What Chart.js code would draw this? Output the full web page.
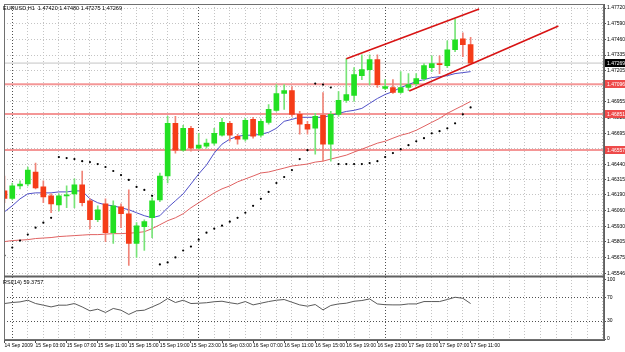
<!DOCTYPE html>
<html>
<head>
<meta charset="utf-8">
<script src="https://cdn.jsdelivr.net/npm/chart.js@4.4.1/dist/chart.umd.min.js"></script>
<style>
  html, body { margin: 0; padding: 0; background: #fff; }
  #chart { display: block; }
</style>
</head>
<body>
<canvas id="chart" width="625" height="352"></canvas>
<script>
// EURUSD H1, 14 Sep 23:00 .. 17 Sep 11:00 (one entry per hour)
const timeLabels = ['14 Sep 2009', '15 Sep 03:00', '15 Sep 07:00', '15 Sep 11:00', '15 Sep 15:00',
  '15 Sep 19:00', '15 Sep 23:00', '16 Sep 03:00', '16 Sep 07:00', '16 Sep 11:00', '16 Sep 15:00',
  '16 Sep 19:00', '16 Sep 23:00', '17 Sep 03:00', '17 Sep 07:00', '17 Sep 11:00'];
const labelEvery = 4;
const daySeparators = [1, 25, 49];

const opens = [1.46222, 1.46160, 1.46263, 1.46279, 1.46377, 1.46255, 1.46182, 1.46108, 1.46182, 1.46198,
  1.46271, 1.46141, 1.45986, 1.46116, 1.45880, 1.46092, 1.46035, 1.45791, 1.45929, 1.46002,
  1.46149, 1.46344, 1.46776, 1.46556, 1.46735, 1.46572, 1.46588, 1.46613, 1.46678, 1.46776,
  1.46670, 1.46646, 1.46808, 1.46678, 1.46784, 1.46882, 1.47020, 1.47044, 1.46849, 1.46768,
  1.46735, 1.46841, 1.46605, 1.46849, 1.46963, 1.47004, 1.47166, 1.47215, 1.47297, 1.47061,
  1.47069, 1.47028, 1.47069, 1.47101, 1.47142, 1.47232, 1.47264, 1.47248, 1.47378, 1.47468, 1.47420];
const highs = [1.46344, 1.46287, 1.46304, 1.46418, 1.46450, 1.46304, 1.46198, 1.46198, 1.46263, 1.46320,
  1.46385, 1.46157, 1.46100, 1.46157, 1.46141, 1.46116, 1.46230, 1.45962, 1.45986, 1.46165,
  1.46369, 1.46833, 1.46833, 1.46759, 1.46751, 1.46694, 1.46646, 1.46735, 1.46816, 1.46792,
  1.46686, 1.46816, 1.46825, 1.46808, 1.46930, 1.47093, 1.47093, 1.47077, 1.46873, 1.46792,
  1.46857, 1.47028, 1.46873, 1.47036, 1.47305, 1.47232, 1.47337, 1.47337, 1.47337, 1.47134,
  1.47134, 1.47199, 1.47183, 1.47183, 1.47264, 1.47329, 1.47329, 1.47451, 1.47630, 1.47516, 1.47480];
const lows = [1.46125, 1.46149, 1.46239, 1.46263, 1.46239, 1.46125, 1.46043, 1.46059, 1.46084, 1.46084,
  1.46100, 1.45913, 1.45970, 1.45807, 1.45791, 1.45921, 1.45612, 1.45677, 1.45734, 1.45840,
  1.46133, 1.46287, 1.46532, 1.46548, 1.46548, 1.46564, 1.46572, 1.46597, 1.46670, 1.46629,
  1.46605, 1.46629, 1.46654, 1.46662, 1.46768, 1.46873, 1.46890, 1.46833, 1.46686, 1.46686,
  1.46523, 1.46466, 1.46466, 1.46833, 1.46947, 1.46955, 1.47134, 1.47093, 1.47069, 1.47052,
  1.47020, 1.47020, 1.47044, 1.47085, 1.47126, 1.47199, 1.47183, 1.47232, 1.47362, 1.47321, 1.47275];
const closes = [1.46160, 1.46263, 1.46279, 1.46393, 1.46247, 1.46173, 1.46116, 1.46182, 1.46190, 1.46271,
  1.46125, 1.45986, 1.46068, 1.45880, 1.46100, 1.46035, 1.45791, 1.45937, 1.45970, 1.46141,
  1.46344, 1.46776, 1.46556, 1.46735, 1.46572, 1.46597, 1.46613, 1.46694, 1.46784, 1.46678,
  1.46646, 1.46800, 1.46670, 1.46792, 1.46890, 1.47020, 1.47044, 1.46849, 1.46768, 1.46727,
  1.46833, 1.46605, 1.46849, 1.46963, 1.47012, 1.47175, 1.47215, 1.47297, 1.47093, 1.47077,
  1.47028, 1.47069, 1.47093, 1.47142, 1.47248, 1.47264, 1.47256, 1.47378, 1.47459, 1.47419, 1.47269];

const maFast = [1.46051, 1.46100, 1.46157, 1.46198, 1.46206, 1.46206, 1.46206, 1.46214, 1.46214, 1.46222,
  1.46222, 1.46157, 1.46125, 1.46108, 1.46100, 1.46084, 1.46068, 1.46043, 1.46019, 1.46002,
  1.46019, 1.46084, 1.46141, 1.46198, 1.46279, 1.46361, 1.46434, 1.46532, 1.46605, 1.46646,
  1.46670, 1.46678, 1.46678, 1.46686, 1.46702, 1.46735, 1.46792, 1.46808, 1.46825, 1.46825,
  1.46825, 1.46825, 1.46841, 1.46857, 1.46873, 1.46882, 1.46898, 1.46939, 1.46979, 1.47012,
  1.47036, 1.47069, 1.47093, 1.47118, 1.47134, 1.47150, 1.47158, 1.47166, 1.47183, 1.47191, 1.47199];
const maSlow = [1.45807, 1.45815, 1.45819, 1.45823, 1.45832, 1.45836, 1.45840, 1.45848, 1.45852, 1.45856,
  1.45860, 1.45864, 1.45864, 1.45868, 1.45872, 1.45872, 1.45876, 1.45880, 1.45888, 1.45913,
  1.45945, 1.45978, 1.46002, 1.46035, 1.46084, 1.46125, 1.46165, 1.46206, 1.46239, 1.46263,
  1.46296, 1.46320, 1.46344, 1.46369, 1.46377, 1.46393, 1.46409, 1.46426, 1.46434, 1.46442,
  1.46458, 1.46466, 1.46483, 1.46499, 1.46515, 1.46540, 1.46564, 1.46588, 1.46613, 1.46629,
  1.46654, 1.46678, 1.46694, 1.46719, 1.46751, 1.46784, 1.46816, 1.46857, 1.46890, 1.46922, 1.46955];
const sar = [1.45693, 1.45758, 1.45815, 1.45864, 1.45921, 1.45962, 1.46002, 1.46499, 1.46491, 1.46483,
  1.46466, 1.46458, 1.46442, 1.46418, 1.46385, 1.46352, 1.46312, 1.46255, 1.46230, 1.46182,
  1.45620, 1.45636, 1.45677, 1.45734, 1.45766, 1.45823, 1.45880, 1.45913, 1.45937, 1.45970,
  1.46002, 1.46043, 1.46100, 1.46157, 1.46214, 1.46287, 1.46336, 1.46393, 1.46483, 1.46556,
  1.47101, 1.47093, 1.47069, 1.46442, 1.46442, 1.46442, 1.46442, 1.46450, 1.46466, 1.46499,
  1.46532, 1.46564, 1.46597, 1.46629, 1.46654, 1.46694, 1.46711, 1.46735, 1.46776, 1.46849, 1.46906];
const rsi = [59.5, 61.2, 62.2, 65.0, 59.5, 56.7, 53.8, 56.7, 56.7, 59.5,
  53.8, 47.2, 50.0, 44.5, 51.2, 48.3, 41.2, 47.2, 48.3, 53.8,
  59.5, 67.8, 61.2, 65.0, 59.5, 60.0, 60.8, 62.5, 63.3, 60.8,
  58.8, 62.8, 57.2, 60.0, 62.8, 65.0, 66.2, 61.7, 57.2, 55.0,
  57.8, 48.8, 56.2, 58.8, 60.0, 63.3, 64.5, 67.2, 58.8, 57.5,
  57.2, 57.2, 58.8, 58.8, 62.8, 62.8, 62.8, 66.2, 70.0, 68.3, 59.4];
const rsiNow = '59.3757';

const levels = [1.47096, 1.46851, 1.46557];
const bidPrice = 1.47269;
// trend lines as [bar index, price] pairs
const trendUpper = [[44, 1.47305], [61.1, 1.47712]];
const trendLower = [[52.1, 1.47040], [71.3, 1.47573]];

const priceTicks = [1.45546, 1.45675, 1.45805, 1.45930, 1.46060, 1.46190, 1.46315, 1.46440, 1.46570,
  1.46695, 1.46825, 1.46955, 1.47080, 1.47205, 1.47335, 1.47460, 1.47590, 1.47720];
const rsiTicks = [0, 30, 70, 100];
const rsiLevels = [30, 70];

const FONT = '"Liberation Sans", Arial, sans-serif';
const FSIZE = 5;
const X_MIN = -0.064, X_MAX = 77.17;

const idx = opens.map((_, i) => i);
const up = idx.map(i => closes[i] >= opens[i]);
const series = arr => arr.map((v, i) => ({ x: i, y: v }));
const hline = v => [{ x: X_MIN - 1, y: v }, { x: X_MAX + 1, y: v }];

const overlay = {
  id: 'overlay',
  afterDraw(chart) {
    const { ctx, chartArea: a, scales } = chart;
    const py = scales.y;
    ctx.save();
    ctx.strokeStyle = '#707070';
    ctx.lineWidth = 1;
    ctx.strokeRect(a.left + 0.5, a.top + 0.5, a.right - a.left - 1, a.bottom - a.top - 1);
    ctx.lineWidth = 2;
    ctx.strokeStyle = '#606060';
    ctx.beginPath();
    ctx.moveTo(a.left, py.bottom);
    ctx.lineTo(a.right, py.bottom);
    ctx.stroke();

    ctx.font = FSIZE + 'px ' + FONT;
    ctx.textBaseline = 'middle';
    const tag = (v, bg) => {
      const yy = Math.round(py.getPixelForValue(v));
      ctx.fillStyle = bg;
      ctx.fillRect(a.right + 1, yy - 4, 21, 8);
      ctx.fillStyle = '#fff';
      ctx.fillText(v.toFixed(5), a.right + 3, yy + 0.5);
    };
    levels.forEach(v => tag(v, '#ee4a4a'));
    tag(bidPrice, '#000');

    ctx.fillStyle = '#000';
    ctx.textBaseline = 'top';
    const n = opens.length - 1;
    ctx.font = '5.5px ' + FONT;
    ctx.fillText('EURUSD,H1  ' + [opens[n], highs[n], lows[n], closes[n]].map(v => v.toFixed(5)).join(' '), 3, a.top + 2);
    ctx.fillText('RSI(14) ' + rsiNow, 3, py.bottom + 3);
    ctx.restore();
  }
};

new Chart(document.getElementById('chart'), {
  type: 'bar',
  data: {
    datasets: [
      ...levels.map(v => ({ type: 'line', data: hline(v), borderColor: 'rgba(236,80,80,0.6)', borderWidth: 2, pointRadius: 0, order: 9 })),
      { type: 'line', data: hline(bidPrice), borderColor: '#c4c4c4', borderWidth: 1, pointRadius: 0, order: 9 },
      { type: 'line', data: series(maSlow), borderColor: '#e06262', borderWidth: 1, pointRadius: 0, order: 8 },
      { type: 'line', data: series(maFast), borderColor: '#5050c8', borderWidth: 1, pointRadius: 0, order: 8 },
      { data: idx.map(i => ({ x: i, y: [lows[i], highs[i]] })), grouped: false, barThickness: 1,
        backgroundColor: idx.map(i => up[i] ? '#78e478' : '#f08478'), order: 7 },
      { data: idx.map(i => ({ x: i, y: [opens[i], closes[i]] })), grouped: false, barThickness: 5, minBarLength: 1,
        backgroundColor: idx.map(i => up[i] ? '#22e022' : '#f53c18'), order: 6 },
      { type: 'line', data: series(sar), showLine: false, pointRadius: 1.1, pointBorderWidth: 0,
        pointBackgroundColor: '#000', order: 2 },
      { type: 'line', data: trendUpper.map(p => ({ x: p[0], y: p[1] })), borderColor: '#d81414', borderWidth: 1.6, pointRadius: 0, order: 1 },
      { type: 'line', data: trendLower.map(p => ({ x: p[0], y: p[1] })), borderColor: '#d81414', borderWidth: 1.6, pointRadius: 0, order: 1 },
      { type: 'line', yAxisID: 'rsi', data: series(rsi), borderColor: '#5a5a5a', borderWidth: 1, pointRadius: 0, order: 1 }
    ]
  },
  options: {
    responsive: false,
    animation: false,
    devicePixelRatio: 1,
    layout: { padding: { top: 2, left: 0, right: 0, bottom: 0 } },
    plugins: { legend: { display: false }, tooltip: { enabled: false } },
    scales: {
      x: {
        type: 'linear',
        min: X_MIN,
        max: X_MAX,
        offset: false,
        afterBuildTicks: s => { s.ticks = Array.from({ length: 78 }, (_, i) => ({ value: i })); },
        afterFit: s => { s.height = 12; },
        grid: {
          offset: false,
          color: c => daySeparators.includes(c.tick.value) ? '#505050'
            : (c.tick.value % 2 === 1 ? '#c4c4c4' : 'rgba(0,0,0,0)'),
          tickColor: c => (c.tick.value % labelEvery === 0 && c.tick.value / labelEvery < timeLabels.length) ? '#505050' : 'rgba(0,0,0,0)',
          tickLength: 3,
          tickBorderDash: [1, 0]
        },
        border: { display: true, color: '#606060', dash: [1, 2] },
        ticks: {
          autoSkip: false,
          maxRotation: 0,
          align: 'start',
          padding: 0,
          color: '#000',
          font: { family: FONT, size: FSIZE },
          callback: v => (v % labelEvery === 0 && timeLabels[v / labelEvery]) ? timeLabels[v / labelEvery] : ''
        }
      },
      y: {
        type: 'linear',
        position: 'right',
        stack: 'panels',
        stackWeight: 274,
        min: 1.45522,
        max: 1.47753,
        afterBuildTicks: s => { s.ticks = priceTicks.map(v => ({ value: v })); },
        afterFit: s => { s.width = 21; },
        grid: { color: '#c4c4c4', tickColor: '#505050', tickLength: 2, tickBorderDash: [1, 0] },
        border: { display: true, color: '#606060', dash: [1, 2] },
        ticks: { autoSkip: false, color: '#000', padding: 1, font: { family: FONT, size: FSIZE }, callback: v => v.toFixed(5) }
      },
      rsi: {
        type: 'linear',
        position: 'right',
        stack: 'panels',
        stackWeight: 64,
        min: -1.67,
        max: 105,
        afterBuildTicks: s => { s.ticks = rsiTicks.map(v => ({ value: v })); },
        afterFit: s => { s.width = 21; },
        grid: {
          color: c => rsiLevels.includes(c.tick.value) ? '#505050' : 'rgba(0,0,0,0)',
          tickColor: '#505050', tickLength: 2, tickBorderDash: [1, 0]
        },
        border: { display: true, color: '#606060', dash: [1, 2] },
        ticks: { autoSkip: false, color: '#000', padding: 1, font: { family: FONT, size: FSIZE } }
      }
    }
  },
  plugins: [overlay]
});
</script>
</body>
</html>
